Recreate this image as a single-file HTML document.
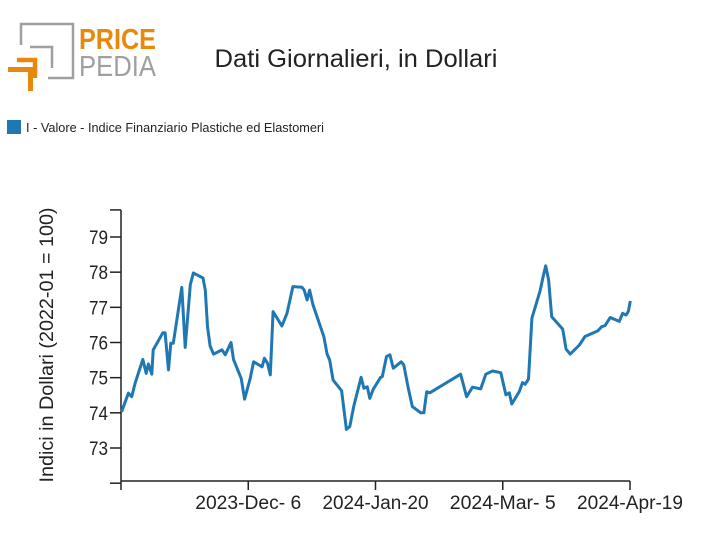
<!DOCTYPE html>
<html><head><meta charset="utf-8">
<style>
body{margin:0;background:#fff;width:712px;height:555px;overflow:hidden;font-family:"Liberation Sans",sans-serif;}
svg{display:block}
</style></head>
<body>
<svg id="chart" width="712" height="555" viewBox="0 0 712 555">
  <g>
    <path d="M21,45 V24 H73 V78 H48" fill="none" stroke="#a0a0a0" stroke-width="2.5"/>
    <path d="M30,47 H52 V68" fill="none" stroke="#a0a0a0" stroke-width="2.5"/>
    <path d="M17,60 H35 V78" fill="none" stroke="#e8890c" stroke-width="4.5"/>
    <path d="M8,69.5 H30.5 V91" fill="none" stroke="#e8890c" stroke-width="5"/>
    <text x="79" y="49" font-size="29" font-weight="bold" fill="#e8890c" textLength="77" lengthAdjust="spacingAndGlyphs">PRICE</text>
    <text x="79" y="76" font-size="29" fill="#a0a0a0" textLength="77" lengthAdjust="spacingAndGlyphs">PEDIA</text>
  </g>
  <text x="356" y="67" font-size="25" fill="#222" text-anchor="middle" textLength="283" lengthAdjust="spacingAndGlyphs">Dati Giornalieri, in Dollari</text>
  <g>
    <rect x="7" y="120" width="14" height="14" fill="#1f77b4"/>
    <text x="26" y="132" font-size="13" fill="#222" textLength="298" lengthAdjust="spacingAndGlyphs">I - Valore - Indice Finanziario Plastiche ed Elastomeri</text>
  </g>
  <text transform="translate(53,345) rotate(-90)" font-size="19" fill="#222" text-anchor="middle" textLength="275" lengthAdjust="spacingAndGlyphs">Indici in Dollari (2022-01 = 100)</text>
  <g id="axes"></g>
  <path id="line" fill="none" stroke="#1f77b4" stroke-width="3" stroke-linejoin="round"/>
</svg>
<script>
const days=[0.2,2.6,3.8,5,7.7,8.9,9.7,10.9,11.4,14.8,15.6,16.8,17.6,18.5,21.5,22.7,24.5,25.6,29,29.8,30.6,31.5,32.7,35.7,36.9,38.9,39.8,42.5,43.7,45.7,46.9,49.9,50.7,51.8,52.8,53.8,56.9,58.7,60.8,64,64.8,65.8,66.7,67.9,71.7,72.9,73.8,75,78,79.7,80.9,82.3,84.9,85.9,87.1,88,89.2,91.8,92.4,93.9,95.1,96.3,99.1,100,101.5,103,106,107.1,108.1,109.2,120.1,122.2,124.3,127.2,129,131.4,134.3,136.1,137.3,138.2,140.8,142,142.9,144.1,145.3,148.2,149.4,150.2,151.2,152.3,156.2,157.4,158.9,162.1,164.1,168.6,170,171.2,173,176.2,177.4,178.6,179.4,180.1];
const values=[74.03,74.56,74.46,74.84,75.52,75.12,75.39,75.1,75.79,76.28,76.28,75.22,75.98,75.98,77.57,75.86,77.64,77.98,77.83,77.49,76.45,75.9,75.67,75.79,75.65,76.0,75.52,74.98,74.39,74.98,75.45,75.31,75.55,75.41,75.08,76.88,76.47,76.83,77.59,77.57,77.49,77.21,77.49,77.07,76.17,75.67,75.5,74.93,74.63,73.53,73.61,74.18,75.01,74.7,74.74,74.41,74.67,75.01,75.03,75.6,75.65,75.27,75.45,75.36,74.74,74.18,74.0,74.0,74.6,74.57,75.1,74.46,74.73,74.68,75.1,75.19,75.14,74.51,74.57,74.25,74.6,74.86,74.81,74.96,76.69,77.47,77.92,78.18,77.78,76.73,76.38,75.81,75.67,75.93,76.17,76.33,76.45,76.48,76.71,76.6,76.83,76.78,76.88,77.18];
const yTicks=[73,74,75,76,77,78,79];
const xTickDays=[0,45,90,135,180];
const xTickLabels=["","2023-Dec- 6","2024-Jan-20","2024-Mar- 5","2024-Apr-19"];

const X0=121,X1=630,D0=0,D1=180;
const x=d=>X0+(d-D0)/(D1-D0)*(X1-X0);
const y=v=>237+(79-v)/6*(448-237);
const NS="http://www.w3.org/2000/svg";
const ax=document.getElementById('axes');
function mk(t,a){const e=document.createElementNS(NS,t);for(const k in a)e.setAttribute(k,a[k]);ax.appendChild(e);return e;}
const yl=mk('line',{x1:X0,y1:210,x2:X0,y2:481,stroke:'#222','stroke-width':1.5});


const xl=mk('line',{x1:X0,y1:481,x2:X1,y2:481,stroke:'#222','stroke-width':1.5});


const ticks2=[72,...yTicks,79.77];
ticks2.forEach(v=>{const t=mk('line',{x1:X0-11,y1:y(v),x2:X0,y2:y(v),stroke:'#222','stroke-width':1.5});

});
yTicks.forEach(v=>{const t=mk('text',{x:X0-13,y:y(v)+7,'font-size':19,'text-anchor':'end',fill:'#222',textLength:19,lengthAdjust:'spacingAndGlyphs'});t.textContent=v;

});
xTickDays.forEach((d,i)=>{const t=mk('line',{x1:x(d),y1:481,x2:x(d),y2:490,stroke:'#222','stroke-width':1.5});


if(xTickLabels[i]){const l=mk('text',{x:x(d),y:509,'font-size':19,'text-anchor':'middle',fill:'#222',textLength:106,lengthAdjust:'spacingAndGlyphs'});l.textContent=xTickLabels[i];

}});
document.getElementById('line').setAttribute('d',days.map((d,i)=>(i?'L':'M')+x(d).toFixed(1)+','+y(values[i]).toFixed(1)).join(''));
</script>
</body></html>
